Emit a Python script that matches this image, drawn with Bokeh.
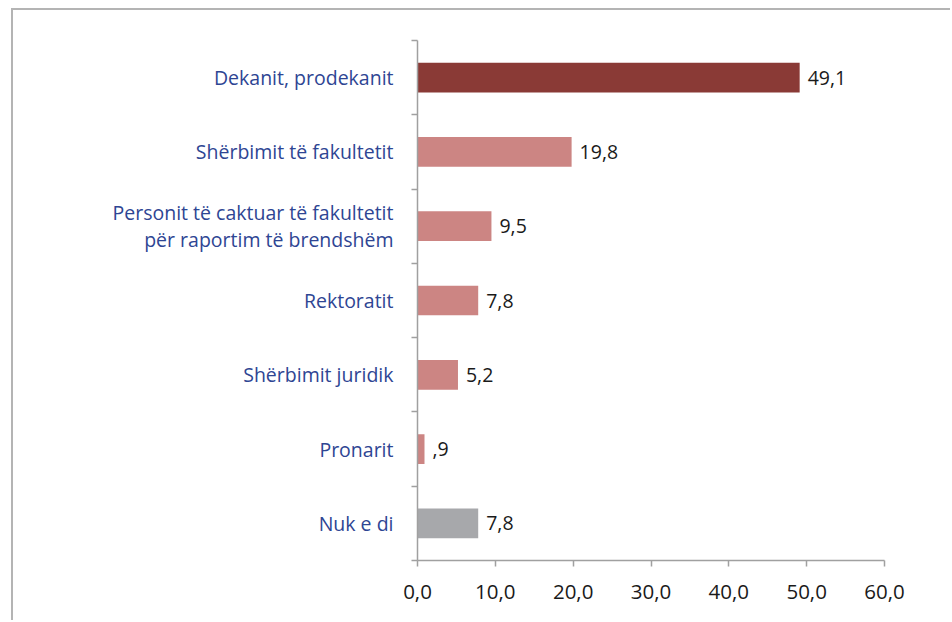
from bokeh.plotting import figure
from bokeh.models import FixedTicker, Range1d, ColumnDataSource
from bokeh.core.properties import value
from bokeh.embed import file_html
from bokeh.resources import INLINE

categories = ["Dekanit, prodekanit", "Shërbimit të fakultetit",
              "Personit të caktuar të fakultetit\npër raportim të brendshëm",
              "Rektoratit", "Shërbimit juridik", "Pronarit", "Nuk e di"]
values = [49.1, 19.8, 9.5, 7.8, 5.2, 0.9, 7.8]
colors = ["#8a3a36", "#cc8583", "#cc8583", "#cc8583", "#cc8583", "#cc8583", "#a7a8ab"]
x_ticks = [0, 10, 20, 30, 40, 50, 60]


def fmt(v):
    s = f"{v:.1f}".replace(".", ",")
    return s[1:] if s.startswith("0,") and v != 0 else s


n = len(categories)
ypos = [n - i - 0.5 for i in range(n)]
src = ColumnDataSource(dict(y=ypos, v=values, c=colors, lab=[fmt(v) for v in values]))

FONT = "Open Sans"
p = figure(width=939, height=612, output_backend="svg", toolbar_location=None,
           x_range=Range1d(0, 60), y_range=Range1d(0, n),
           min_border_left=404, min_border_right=68, min_border_top=30, min_border_bottom=62)
p.styles = {"border-top": "2px solid #b4b4b4", "border-left": "2px solid #b4b4b4",
            "margin-left": "11px", "margin-top": "8px"}
p.outline_line_color = None
p.xgrid.visible = False
p.ygrid.visible = False

p.hbar(y="y", right="v", left=0, height=0.4, fill_color="c", line_color=None, source=src)
p.text(x="v", y="y", text="lab", source=src, x_offset=8, text_baseline="middle",
       text_align="left", text_font=value(FONT), text_font_size="19.5px", text_color="#1a1a1a")

axis_color = "#a0a0a0"
xa = p.xaxis[0]
xa.ticker = FixedTicker(ticks=x_ticks, minor_ticks=[])
xa.major_label_overrides = {t: fmt(float(t)) for t in x_ticks}
xa.axis_line_color = axis_color
xa.axis_line_width = 1.5
xa.major_tick_line_color = axis_color
xa.major_tick_line_width = 1.5
xa.major_tick_in = 0
xa.major_tick_out = 6
xa.minor_tick_line_color = None
xa.major_label_standoff = 18
xa.major_label_text_font = FONT
xa.major_label_text_font_size = "20.5px"
xa.major_label_text_color = "#1a1a1a"

ya = p.yaxis[0]
ya.ticker = FixedTicker(ticks=ypos, minor_ticks=list(range(n + 1)))
ya.major_label_overrides = {y: c for y, c in zip(ypos, categories)}
ya.axis_line_color = axis_color
ya.axis_line_width = 1.5
ya.major_tick_line_color = None
ya.minor_tick_line_color = axis_color
ya.minor_tick_line_width = 1.5
ya.minor_tick_in = 0
ya.minor_tick_out = 6
ya.major_label_standoff = 18
ya.major_label_text_font = FONT
ya.major_label_text_font_size = "19.5px"
ya.major_label_text_line_height = 1.0
ya.major_label_text_color = "#2e4593"
ya.major_label_text_align = "right"

open("out.html", "w").write(file_html(p, INLINE))
